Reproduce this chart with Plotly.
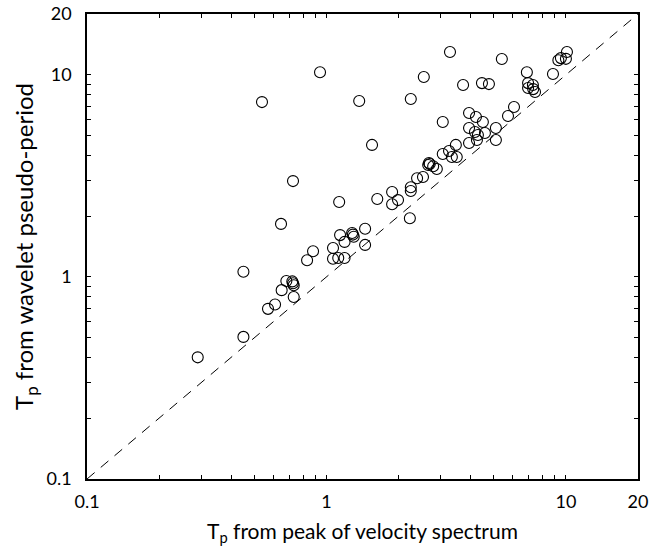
import plotly.graph_objects as go

# Tp from peak of velocity spectrum (x) vs Tp from wavelet pseudo-period (y)
tp_spectrum = [
    0.29, 0.45, 0.45, 0.57, 0.61, 0.65, 0.68, 0.72, 0.725, 0.73, 0.73, 0.646, 0.725, 0.538, 0.94, 0.83, 0.879,
    1.065, 1.065, 1.12, 1.19, 1.14, 1.19, 1.28, 1.29, 1.30, 1.45, 1.45, 1.13, 1.37, 1.55,
    1.63, 1.88, 1.99, 1.88, 2.23, 2.25, 2.25, 2.39, 2.53, 2.68, 2.70, 2.66, 2.79, 2.89, 2.25, 2.55,
    3.06, 3.25, 3.47, 3.34, 3.5, 3.06, 3.28, 3.72, 4.46, 4.77, 3.94, 4.21, 4.5, 3.94, 4.17, 4.29, 4.59,
    5.1, 5.1, 4.25, 3.94, 5.4,
    5.73, 6.07, 6.87, 6.95, 7.28, 7.43, 6.95, 7.3, 8.83, 9.3, 9.53, 10.0, 10.1,
]
tp_wavelet = [
    0.40, 0.505, 1.06, 0.695, 0.73, 0.86, 0.955, 0.95, 0.93, 0.91, 0.795, 1.83, 2.98, 7.33, 10.3, 1.21, 1.34,
    1.39, 1.23, 1.24, 1.24, 1.61, 1.49, 1.65, 1.62, 1.58, 1.73, 1.44, 2.35, 7.42, 4.5,
    2.43, 2.63, 2.40, 2.29, 1.95, 2.78, 2.66, 3.08, 3.12, 3.66, 3.62, 3.58, 3.53, 3.42, 7.59, 9.75,
    4.06, 4.2, 4.5, 3.92, 3.92, 5.84, 12.97, 8.9, 9.1, 9.0, 6.47, 6.18, 5.84, 5.46, 5.21, 5.04, 5.15,
    5.46, 4.76, 4.76, 4.6, 11.97,
    6.26, 6.93, 10.3, 9.1, 8.9, 8.22, 8.6, 8.5, 10.1, 11.8, 12.1, 12.0, 12.97,
]

one_to_one = [0.1, 20]
tick_vals = [0.1, 0.2, 0.3, 0.4, 0.5, 0.6, 0.7, 0.8, 0.9, 1, 2, 3, 4, 5, 6, 7, 8, 9, 10, 20]
tick_labels = {0.1: "0.1", 1: "1", 10: "10", 20: "20"}
tick_text = [tick_labels.get(v, "") for v in tick_vals]

FONT = "Lato, Noto Sans, sans-serif"

fig = go.Figure()
fig.add_trace(go.Scatter(
    x=one_to_one, y=one_to_one, mode="lines",
    line=dict(color="black", width=1, dash="10px,8px"),
    hoverinfo="skip", showlegend=False,
))
fig.add_trace(go.Scatter(
    x=tp_spectrum, y=tp_wavelet, mode="markers",
    marker=dict(symbol="circle-open", size=11, color="black", line=dict(width=1.1, color="black")),
    showlegend=False,
))

axis_common = dict(
    type="log",
    range=[-1, 1.30103],
    tickmode="array",
    tickvals=tick_vals,
    ticktext=tick_text,
    ticks="inside",
    ticklen=4,
    tickwidth=1,
    tickcolor="black",
    showline=True,
    linecolor="black",
    linewidth=1.5,
    mirror="allticks",
    showgrid=False,
    zeroline=False,
    automargin=False,
    tickfont=dict(family=FONT, size=18, color="black"),
)

fig.update_xaxes(**axis_common, ticklabelstandoff=6,
                 title=dict(text="T<sub>p</sub> from peak of velocity spectrum",
                            font=dict(family=FONT, size=21, color="black"),
                            standoff=13))
fig.update_yaxes(**axis_common, ticklabelstandoff=10,
                 title=dict(text="T<sub>p</sub> from wavelet pseudo-period",
                            font=dict(family=FONT, size=24, color="black"),
                            standoff=6))

fig.update_layout(
    width=656, height=546,
    margin=dict(l=87, r=18, t=14, b=67),
    paper_bgcolor="white",
    plot_bgcolor="white",
)

fig.write_html("out.html")
